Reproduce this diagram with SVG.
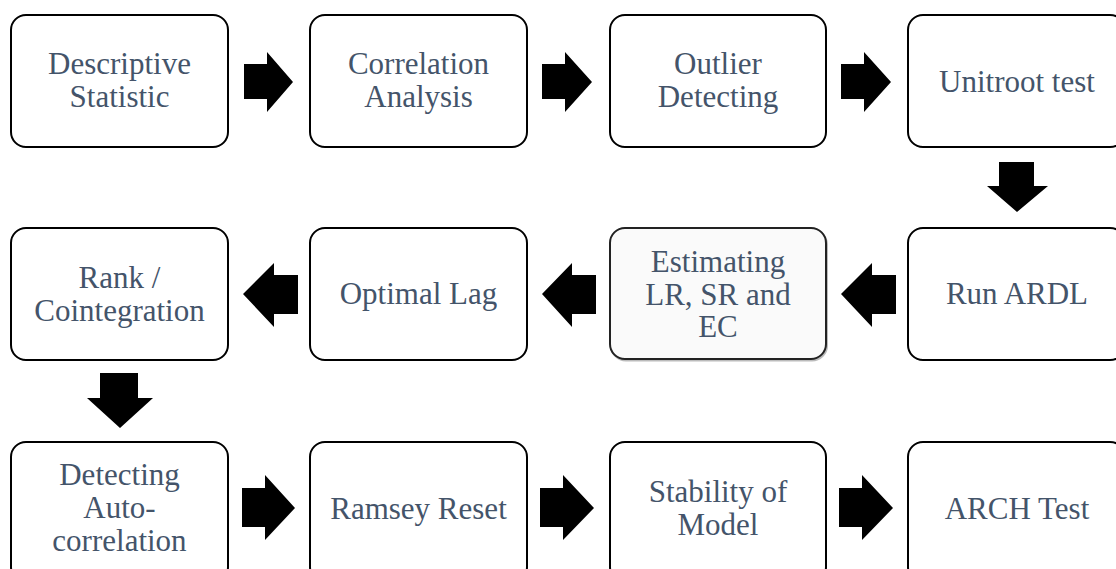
<svg xmlns="http://www.w3.org/2000/svg" width="1116" height="569" viewBox="0 0 1116 569">
<style>
.box{fill:#fff;stroke:#000;stroke-width:2}
.box2{fill:#fafafa;stroke:#222;stroke-width:2}
.shd{fill:none;stroke:#bbb;stroke-width:2}
.arr{fill:#000}
</style>
<rect width="1116" height="569" fill="#fff"/>
<g id="connectors">
<polygon class="arr" points="244,64 267,64 267,52 293,82 267,112 267,99 244,99"/>
<polygon class="arr" points="542,64 565,64 565,52 592,82 565,112 565,99 542,99"/>
<polygon class="arr" points="841,64 864,64 864,52 891,82 864,112 864,99 841,99"/>
<polygon class="arr" points="999,162 1034,162 1034,186 1048,186 1017,212 987,186 999,186"/>
<polygon class="arr" points="896,275 896,314 872,314 872,327 841,294 872,263 872,275"/>
<polygon class="arr" points="596,275 596,314 572,314 572,327 542,294 572,263 572,275"/>
<polygon class="arr" points="298,275 298,314 274,314 274,327 243,294 274,263 274,275"/>
<polygon class="arr" points="100,373 138,373 138,398 153,398 120,428 87,398 100,398"/>
<polygon class="arr" points="242,488 265,488 265,475 295,508 265,540 265,527 242,527"/>
<polygon class="arr" points="540,488 563,488 563,475 594,508 563,540 563,527 540,527"/>
<polygon class="arr" points="839,488 862,488 862,475 893,508 862,540 862,527 839,527"/>
</g>
<g font-family="Liberation Serif, Times New Roman, serif" font-size="31" fill="#44546A" text-anchor="middle">
<g id="n1"><rect class="box" x="11" y="15" width="217" height="132" rx="15"/><text font-family="Liberation Serif" x="119.5" y="74">Descriptive</text><text font-family="Liberation Serif" x="119.5" y="107">Statistic</text></g>
<g id="n2"><rect class="box" x="310" y="15" width="217" height="132" rx="15"/><text font-family="Liberation Serif" x="418.5" y="74">Correlation</text><text font-family="Liberation Serif" x="418.5" y="107">Analysis</text></g>
<g id="n3"><rect class="box" x="610" y="15" width="216" height="132" rx="15"/><text font-family="Liberation Serif" x="718" y="74">Outlier</text><text font-family="Liberation Serif" x="718" y="107">Detecting</text></g>
<g id="n4"><rect class="box" x="908" y="15" width="217" height="132" rx="15"/><text font-family="Liberation Serif" x="1017" y="92">Unitroot test</text></g>
<g id="n5"><rect class="box" x="908" y="228" width="217" height="132" rx="15"/><text font-family="Liberation Serif" x="1017" y="304">Run ARDL</text></g>
<g id="n6"><rect class="shd" x="611" y="229.5" width="216" height="131" rx="15"/><rect class="box2" x="610" y="228" width="216" height="131" rx="15"/><text font-family="Liberation Serif" x="718" y="272">Estimating</text><text font-family="Liberation Serif" x="718" y="305">LR, SR and</text><text font-family="Liberation Serif" x="718" y="337">EC</text></g>
<g id="n7"><rect class="box" x="310" y="228" width="217" height="132" rx="15"/><text font-family="Liberation Serif" x="418.5" y="304">Optimal Lag</text></g>
<g id="n8"><rect class="box" x="11" y="228" width="217" height="132" rx="15"/><text font-family="Liberation Serif" x="119.5" y="288">Rank /</text><text font-family="Liberation Serif" x="119.5" y="321">Cointegration</text></g>
<g id="n9"><rect class="box" x="11" y="442" width="217" height="140" rx="15"/><text font-family="Liberation Serif" x="119.5" y="485">Detecting</text><text font-family="Liberation Serif" x="119.5" y="518">Auto-</text><text font-family="Liberation Serif" x="119.5" y="551">correlation</text></g>
<g id="n10"><rect class="box" x="310" y="442" width="217" height="140" rx="15"/><text font-family="Liberation Serif" x="418.5" y="519">Ramsey Reset</text></g>
<g id="n11"><rect class="box" x="610" y="442" width="216" height="140" rx="15"/><text font-family="Liberation Serif" x="718" y="502">Stability of</text><text font-family="Liberation Serif" x="718" y="535">Model</text></g>
<g id="n12"><rect class="box" x="908" y="442" width="217" height="140" rx="15"/><text font-family="Liberation Serif" x="1017" y="519">ARCH Test</text></g>
</g>
</svg>
